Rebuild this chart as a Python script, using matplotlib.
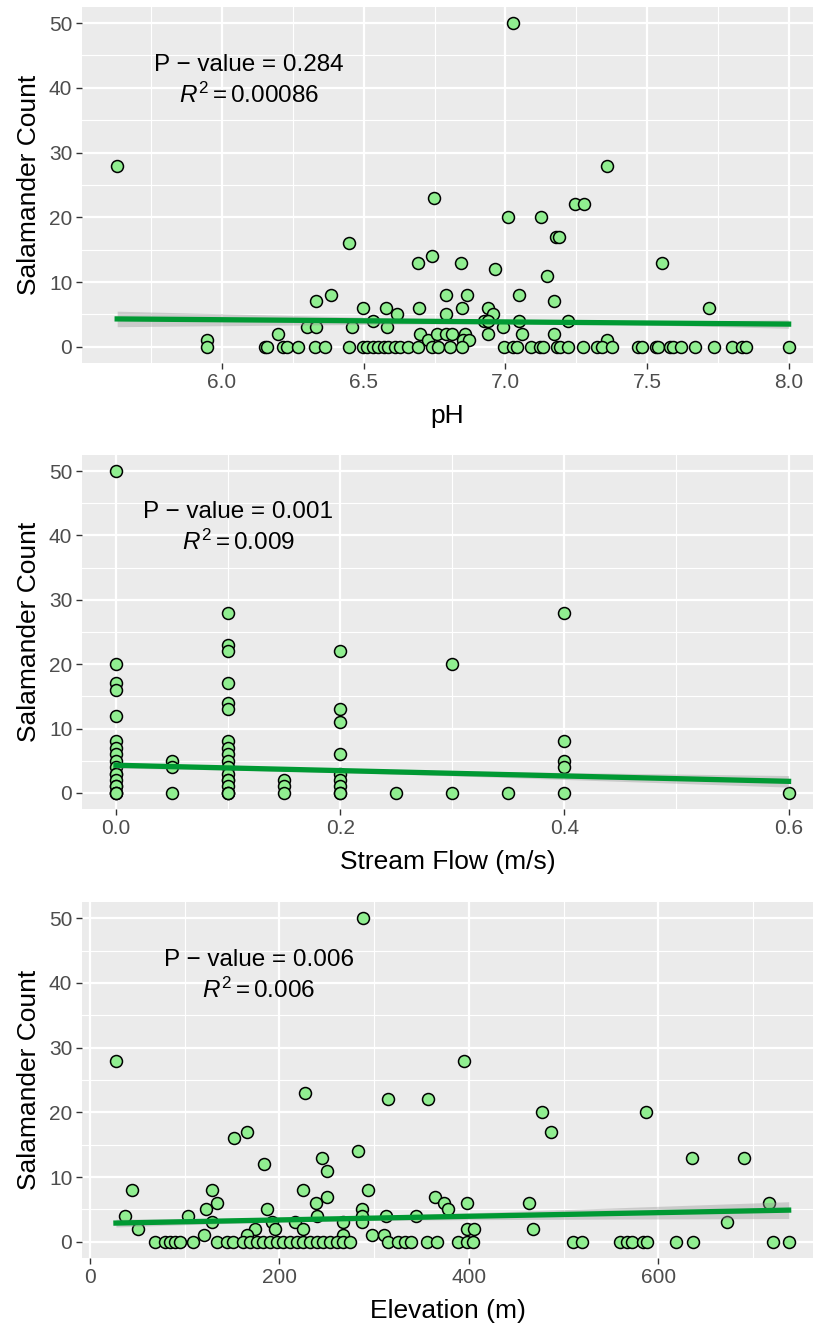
import numpy as np
from matplotlib import pyplot as plt

plt.rcParams['font.family'] = ['Liberation Sans', 'DejaVu Sans']
plt.rcParams['mathtext.fontset'] = 'custom'
plt.rcParams['mathtext.rm'] = 'Liberation Sans'
plt.rcParams['mathtext.it'] = 'Liberation Sans:italic'

# ---- pH panel ----
ph_x = [5.63, 6.748, 6.448, 6.69, 6.74, 6.385, 6.33, 6.79, 6.497, 6.58, 6.696, 6.616, 6.79,
        6.534, 6.199, 6.30, 6.33, 6.459, 6.583, 6.698, 6.728, 6.76, 6.79, 5.948,
        7.028, 7.357, 7.245, 7.277, 7.008, 7.127, 7.178, 7.19, 6.842, 7.551, 6.963, 7.145,
        6.865, 7.046, 7.17, 7.719, 6.845, 6.94, 6.957, 6.925, 6.94, 7.046, 7.22, 6.99,
        6.81, 6.857, 6.94, 7.058, 7.17, 6.85, 6.87, 7.357,
        5.948, 6.152, 6.16, 6.214, 6.230, 6.269, 6.328, 6.363, 6.449, 6.496, 6.512, 6.531,
        6.551, 6.571, 6.587, 6.610, 6.628, 6.657, 6.693, 6.740, 6.763, 6.804, 6.845, 6.996,
        7.028, 7.039, 7.089, 7.122, 7.134, 7.181, 7.192, 7.222, 7.275, 7.322, 7.339, 7.377,
        7.469, 7.481, 7.531, 7.539, 7.580, 7.592, 7.618, 7.669, 7.737, 7.799, 7.833, 7.848,
        7.999]
ph_y = [28, 23, 16, 13, 14, 8, 7, 8, 6, 6, 6, 5, 5,
        4, 2, 3, 3, 3, 3, 2, 1, 2, 2, 1,
        50, 28, 22, 22, 20, 20, 17, 17, 13, 13, 12, 11,
        8, 8, 7, 6, 6, 6, 5, 4, 4, 4, 4, 3,
        2, 2, 2, 2, 2, 1, 1, 1,
        0, 0, 0, 0, 0, 0, 0, 0, 0, 0, 0, 0,
        0, 0, 0, 0, 0, 0, 0, 0, 0, 0, 0, 0,
        0, 0, 0, 0, 0, 0, 0, 0, 0, 0, 0, 0,
        0, 0, 0, 0, 0, 0, 0, 0, 0, 0, 0, 0,
        0]
# fitted trend (value at lowest and highest x) and band half-widths
ph_fit = [4.3, 3.5]
ph_band = [(5.63, 1.2), (6.9, 0.3), (8.0, 0.65)]

# ---- stream flow panel ----
flow_x = [0.0] * 18 + [0.05] * 3 + [0.1] * 18 + [0.15] * 3 + [0.2] * 9 + [0.25] \
    + [0.3] * 2 + [0.35] + [0.4] * 5 + [0.6]
flow_y = [50, 20, 17, 16, 12, 8, 7, 6, 5, 4, 3, 3, 2, 1, 1, 0, 0, 0,
          5, 4, 0,
          28, 23, 22, 17, 14, 13, 8, 7, 6, 5, 4, 3, 2, 2, 1, 0, 0, 0,
          2, 1, 0,
          22, 13, 11, 6, 3, 2, 1, 0, 0,
          0,
          20, 0,
          0,
          28, 8, 5, 4, 0,
          0]
flow_fit = [4.3, 1.8]
flow_band = [(0.0, 0.45), (0.15, 0.3), (0.6, 0.9)]

# ---- elevation panel ----
elev_x = [27.4, 288.6, 227, 314.3, 357.2, 152, 165.4, 183.7, 245.3, 250.5, 282.6, 44, 128.5,
          225.2, 293.8, 133.7, 238.3, 250.5, 122.1, 186.5, 286.8, 37, 103.8, 128.5, 239.3,
          286.8, 216.4, 267.5, 286.8, 312.5, 344.2, 191.8, 51, 174.2, 195.3, 224.5, 165.4,
          120.4, 267.5, 297.4, 310.4, 364.2, 373.7, 378.3,
          394.8, 476.9, 587, 486.4, 635.2, 690.8, 398.3, 463.5, 716.8, 397.7, 405.7, 467.4,
          672.2,
          68.6, 79.2, 84.5, 89.7, 95.0, 108.4, 133.7, 144.3, 150.6, 161.9, 168.9, 176, 183,
          190, 197.1, 204.1, 211.2, 218.2, 225.2, 232.3, 239.3, 246.3, 253.4, 260.4, 267.5,
          274.5, 314.9, 325.5, 332.6, 338.9, 355.5, 366, 388.9, 397.7, 404.7, 510.3, 519.1,
          559.5, 566.6, 571.9, 584.1, 587.7, 618.7, 636.9, 720.8, 737.6]
elev_y = [28, 50, 23, 22, 22, 16, 17, 12, 13, 11, 14, 8, 8,
          8, 8, 6, 6, 7, 5, 5, 5, 4, 4, 3, 4,
          4, 3, 3, 3, 4, 4, 3, 2, 2, 2, 2, 1,
          1, 1, 1, 1, 7, 6, 5,
          28, 20, 20, 17, 13, 13, 6, 6, 6, 2, 2, 2,
          3] + [0] * 46
elev_fit = [2.9, 4.9]
elev_band = [(27.4, 0.6), (280, 0.35), (737.6, 1.3)]

panels = [
    (ph_x, ph_y, ph_fit, ph_band, 'pH', [6.0, 6.5, 7.0, 7.5, 8.0],
     [5.75, 6.25, 6.75, 7.25, 7.75], (5.506, 8.085), '%.1f',
     ['P \u2212 value = 0.284', r'$R^2 = 0.00086$'], 6.095),
    (flow_x, flow_y, flow_fit, flow_band, 'Stream Flow (m/s)', [0.0, 0.2, 0.4, 0.6],
     [0.1, 0.3, 0.5], (-0.0303, 0.6218), '%.1f',
     ['P \u2212 value = 0.001', r'$R^2 = 0.009$'], 0.109),
    (elev_x, elev_y, elev_fit, elev_band, 'Elevation (m)', [0, 200, 400, 600],
     [100, 300, 500, 700], (-8.4, 763.3), '%d',
     ['P \u2212 value = 0.006', r'$R^2 = 0.006$'], 178.4),
]

# axes boxes in figure fractions (left, bottom, width, height)
boxes = [(0.1009, 0.7267, 0.8991, 0.2681),
         (0.1009, 0.3908, 0.8991, 0.2666),
         (0.1009, 0.0527, 0.8991, 0.2680)]


def trend(x, fit, band):
    xs = np.linspace(min(x), max(x), 80)
    line = np.interp(xs, [xs[0], xs[-1]], fit)
    bx = [b[0] for b in band]
    bw = [b[1] ** 2 for b in band]
    q = np.polyfit(bx, bw, 2)
    hw = np.sqrt(np.clip(np.polyval(q, xs), 0.01, None))
    return xs, line, line - hw, line + hw


fig = plt.figure(figsize=(8.13, 13.28), dpi=100)

for (x, y, fit, band, xlab, xt, xminor, xlim, fmt, label, tx), box in zip(panels, boxes):
    ax = fig.add_axes(box)
    ax.set_facecolor('#EBEBEB')
    for sp in ax.spines.values():
        sp.set_visible(False)
    ax.set_xlim(*xlim)
    ax.set_ylim(-2.5, 52.5)
    ax.set_xticks(xt)
    ax.set_xticklabels([fmt % v for v in xt])
    ax.set_xticks(xminor, minor=True)
    ax.set_yticks([0, 10, 20, 30, 40, 50])
    ax.set_yticks([5, 15, 25, 35, 45], minor=True)
    ax.grid(True, which='major', color='white', linewidth=1.6)
    ax.grid(True, which='minor', color='white', linewidth=0.8)
    ax.set_axisbelow(True)
    ax.tick_params(which='major', length=4, width=1, color='#333333',
                   labelsize=15, labelcolor='#4D4D4D', pad=3)
    ax.tick_params(which='minor', length=0)

    ax.scatter(x, y, s=74, c='#90EE90', edgecolors='black', linewidths=1.1, zorder=3)

    xs, line, lo, hi = trend(x, fit, band)
    ax.fill_between(xs, lo, hi, color='#999999', alpha=0.4, linewidth=0, zorder=4)
    ax.plot(xs, line, color='#009933', linewidth=3.8, zorder=5)

    ax.text(tx, 43.6, label[0], ha='center', va='center', fontsize=17.5, zorder=6)
    ax.text(tx, 38.9, label[1], ha='center', va='center', fontsize=17.5, zorder=6)

    ax.set_xlabel(xlab, fontsize=19, labelpad=9)
    ax.set_ylabel('Salamander Count', fontsize=19, labelpad=6)

fig.savefig('out.png', dpi=100)
